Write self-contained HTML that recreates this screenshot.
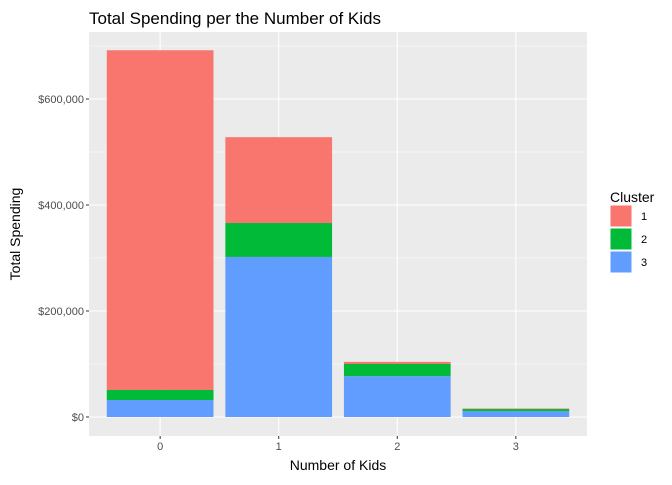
<!DOCTYPE html>
<html><head><meta charset="utf-8"><style>
body{margin:0;background:#fff;font-family:"Liberation Sans",Arial,sans-serif}
</style></head><body>
<svg id="chart" width="672" height="480" xmlns="http://www.w3.org/2000/svg">
<text x="89" y="24" font-size="17" fill="#000">Total Spending per the Number of Kids</text>
<rect x="89" y="32" width="498" height="404" fill="#EBEBEB"/>
<g id="grid"></g>
<g id="bars"></g>
<g id="axes"></g>
<text x="338" y="470" font-size="14" text-anchor="middle">Number of Kids</text>
<text transform="translate(20,234) rotate(-90)" font-size="14" text-anchor="middle">Total Spending</text>
<g id="legend">
<text x="610" y="202" font-size="14">Cluster</text>
</g>
</svg>
<script>
const categories=["0","1","2","3"];
const cluster1=[641000,162000,4000,1000];
const cluster2=[19000,64000,23000,4000];
const cluster3=[32000,302000,77000,11000];
const yTicks=[0,200000,400000,600000];
const yTickLabels=["$0","$200,000","$400,000","$600,000"];
const clusterNames=["1","2","3"];
const colors=["#F8766D","#00BA38","#619CFF"];
const NS="http://www.w3.org/2000/svg";
const L=89,R=587,T=32,B=436;
const step=(R-L)/4.2;
function xs(i){return L+(0.6+i)*step;}
function ys(v){return 417-v*106/200000;}
function mk(tag,attrs,parent){const e=document.createElementNS(NS,tag);for(const k in attrs)e.setAttribute(k,attrs[k]);parent.appendChild(e);return e;}
const grid=document.getElementById('grid'),bars=document.getElementById('bars'),axes=document.getElementById('axes');
for(let i=0;i<yTicks.length;i++){
  const y=ys(yTicks[i]);
  const g=mk('line',{x1:L,x2:R,y1:y,y2:y,stroke:'#fff','stroke-width':1.1},grid);
  
  
  const ym=ys(yTicks[i]+100000);
  if(ym>T){const m=mk('line',{x1:L,x2:R,y1:ym,y2:ym,stroke:'#fff','stroke-width':0.5},grid);
  
  }
  const t=mk('line',{x1:L-3,x2:L,y1:y,y2:y,stroke:'#333'},axes);
  
  
  const tx=mk('text',{x:L-5,y:y+4,'font-size':11,fill:'#4D4D4D','text-anchor':'end'},axes);
  tx.textContent=yTickLabels[i];
  
  
}
const series=[cluster3,cluster2,cluster1];
const sColors=[colors[2],colors[1],colors[0]];
categories.forEach((c,i)=>{
  const x=xs(i);
  const g=mk('line',{x1:x,x2:x,y1:T,y2:B,stroke:'#fff','stroke-width':1.1},grid);
  
  
  let base=0;
  const w=step*0.9;
  series.forEach((s,k)=>{
    const top=base+s[i];
    const r=mk('rect',{x:x-w/2,y:ys(top),width:w,height:ys(base)-ys(top),fill:sColors[k]},bars);
    
    
    base=top;
  });
  const t=mk('line',{x1:x,x2:x,y1:B,y2:B+3,stroke:'#333'},axes);
  
  
  const tx=mk('text',{x:x,y:B+14,'font-size':11,fill:'#4D4D4D','text-anchor':'middle'},axes);
  tx.textContent=c;
  
  
});
const lg=document.getElementById('legend');
clusterNames.forEach((n,k)=>{
  const y=205+k*23;
  const r=mk('rect',{x:610,y:y,width:22,height:22,fill:colors[k],stroke:'#fff','stroke-width':1},lg);
  
  
  const t=mk('text',{x:641,y:y+15,'font-size':11,fill:'#000'},lg);
  t.textContent=n;
  
  
});
</script>
</body></html>
